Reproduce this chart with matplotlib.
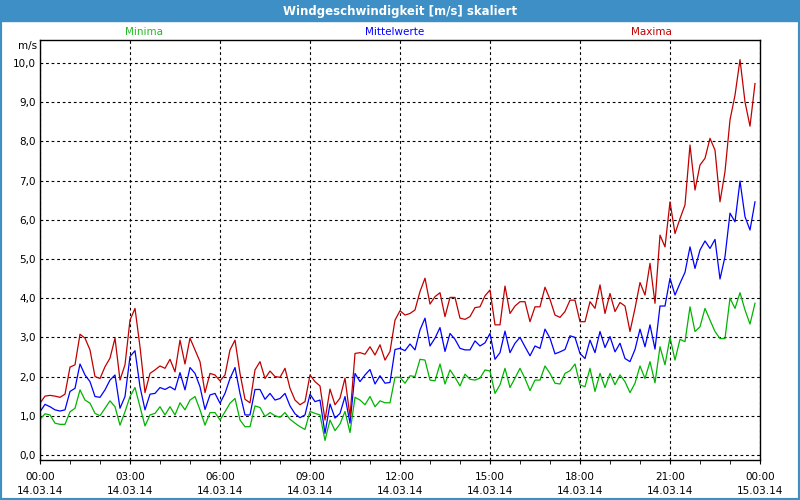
import numpy as np
import matplotlib.pyplot as plt
from matplotlib.patches import Rectangle

# 10-Minuten-Werte 14.03.14 00:00 .. 23:50 (m/s)
maxima = [1.32, 1.50, 1.52, 1.50, 1.47, 1.55, 2.24, 2.30, 3.08, 2.98, 2.68, 2.00, 1.95, 2.25, 2.47, 2.98, 1.91, 2.30, 3.44, 3.74, 2.76, 1.59, 2.08, 2.17, 2.27,
          2.21, 2.44, 2.12, 2.93, 2.32, 2.98, 2.68, 2.38, 1.59, 2.08, 2.04, 1.89, 2.04, 2.68, 2.93, 2.08, 1.42, 1.33, 2.17, 2.38, 1.95, 2.14, 2.00, 1.98,
          2.21, 1.70, 1.40, 1.28, 1.36, 2.04, 1.87, 1.76, 0.89, 1.68, 1.28, 1.45, 1.96, 0.98, 2.59, 2.61, 2.57, 2.76, 2.55, 2.81, 2.42, 2.64, 3.44, 3.68,
          3.57, 3.61, 3.70, 4.17, 4.51, 3.85, 4.04, 4.14, 3.53, 4.02, 4.02, 3.49, 3.46, 3.53, 3.76, 3.78, 4.06, 4.21, 3.32, 3.32, 4.31, 3.61, 3.80, 3.91,
          3.91, 3.40, 3.78, 3.78, 4.28, 3.97, 3.57, 3.51, 3.66, 3.95, 3.95, 3.40, 3.40, 3.91, 3.74, 4.34, 3.61, 4.12, 3.66, 3.89, 3.80, 3.15, 3.74, 4.40,
          4.08, 4.89, 3.87, 5.61, 5.31, 6.46, 5.65, 6.03, 6.38, 7.91, 6.76, 7.40, 7.57, 8.08, 7.78, 6.46, 7.23, 8.55, 9.18, 10.09, 9.01, 8.39, 9.48]
mittelwerte = [1.10, 1.29, 1.23, 1.15, 1.12, 1.15, 1.62, 1.70, 2.32, 2.04, 1.87, 1.49, 1.47, 1.66, 1.91, 2.04, 1.19, 1.49, 2.51, 2.66, 1.74, 1.15, 1.55, 1.57, 1.72,
               1.67, 1.74, 1.66, 2.10, 1.66, 2.23, 2.08, 1.74, 1.16, 1.53, 1.57, 1.32, 1.57, 1.95, 2.23, 1.57, 1.02, 1.02, 1.67, 1.67, 1.42, 1.57, 1.40, 1.44,
               1.57, 1.25, 1.05, 0.95, 1.02, 1.55, 1.36, 1.40, 0.55, 1.30, 0.94, 1.06, 1.49, 0.81, 2.08, 1.87, 2.04, 2.18, 1.81, 2.02, 1.83, 1.85, 2.69, 2.72,
               2.66, 2.83, 2.68, 3.19, 3.49, 2.78, 2.98, 3.25, 2.64, 3.10, 2.95, 2.72, 2.68, 2.68, 2.91, 2.78, 2.86, 3.10, 2.44, 2.61, 3.16, 2.61, 2.85, 3.00,
               2.76, 2.53, 2.78, 2.72, 3.21, 2.98, 2.58, 2.63, 2.69, 3.04, 3.00, 2.59, 2.46, 2.93, 2.61, 3.15, 2.74, 3.02, 2.63, 2.85, 2.46, 2.38, 2.69, 3.21,
               2.76, 3.32, 2.70, 3.80, 3.80, 4.51, 4.08, 4.38, 4.66, 5.31, 4.76, 5.23, 5.46, 5.27, 5.50, 4.49, 5.06, 6.17, 5.95, 6.99, 6.08, 5.74, 6.46]
minima = [0.91, 1.05, 1.02, 0.81, 0.78, 0.78, 1.10, 1.19, 1.66, 1.40, 1.32, 1.06, 1.00, 1.19, 1.38, 1.23, 0.76, 1.10, 1.49, 1.72, 1.23, 0.74, 1.02, 1.06, 1.23,
          1.02, 1.23, 1.02, 1.33, 1.15, 1.40, 1.49, 1.15, 0.76, 1.08, 1.08, 0.89, 1.10, 1.32, 1.44, 0.89, 0.72, 0.72, 1.25, 1.21, 0.98, 1.08, 1.00, 0.96,
          1.08, 0.91, 0.81, 0.72, 0.65, 1.11, 1.06, 1.02, 0.37, 0.89, 0.62, 0.79, 1.11, 0.57, 1.47, 1.40, 1.28, 1.49, 1.23, 1.38, 1.33, 1.33, 1.98, 1.98,
          1.83, 2.02, 2.00, 2.44, 2.42, 1.91, 1.89, 2.32, 1.81, 2.17, 1.98, 1.76, 2.06, 1.93, 1.91, 1.96, 2.17, 2.14, 1.57, 1.79, 2.21, 1.72, 1.96, 2.21,
          1.95, 1.64, 1.91, 1.91, 2.27, 2.08, 1.83, 1.81, 2.08, 2.15, 2.32, 1.79, 1.74, 2.21, 1.62, 2.08, 1.72, 2.08, 1.79, 2.04, 1.87, 1.59, 1.83, 2.27,
          1.95, 2.38, 1.84, 2.76, 2.30, 3.00, 2.42, 2.95, 2.89, 3.78, 3.15, 3.27, 3.74, 3.44, 3.15, 2.97, 2.97, 4.00, 3.74, 4.14, 3.70, 3.34, 3.87]

tick_hours = [0, 3, 6, 9, 12, 15, 18, 21, 24]
tick_labels = ["00:00\n14.03.14", "03:00\n14.03.14", "06:00\n14.03.14", "09:00\n14.03.14",
               "12:00\n14.03.14", "15:00\n14.03.14", "18:00\n14.03.14", "21:00\n14.03.14",
               "00:00\n15.03.14"]
y_ticks = [0, 1, 2, 3, 4, 5, 6, 7, 8, 9, 10]

blau = '#3d8fc6'

fig = plt.figure(figsize=(8, 5), dpi=100)
ax = fig.add_axes([0.05, 0.08, 0.90, 0.84])

x = np.arange(len(maxima)) / 6.0  # Stunden
ax.plot(x, minima, color='#00b400', lw=0.9)
ax.plot(x, mittelwerte, color='#0000ff', lw=0.9)
ax.plot(x, maxima, color='#c00000', lw=0.9)

ax.set_xlim(0, 24)
ax.set_ylim(-0.13, 10.59)
ax.set_yticks(y_ticks)
ax.set_yticklabels([f"{v:.1f}".replace('.', ',') for v in y_ticks])
ax.set_xticks(tick_hours)
ax.set_xticklabels(tick_labels)
ax.set_xticks(range(25), minor=True)
for lab in ax.get_xticklabels():
    lab.set_linespacing(1.5)

ax.tick_params(axis='y', length=0, pad=3, labelsize=7.5)
ax.tick_params(axis='x', which='both', length=3, direction='out', pad=6, labelsize=7.5)
ax.grid(True, color='black', linestyle=(0, (2.5, 2.5)), lw=0.8)
for s in ax.spines.values():
    s.set_linewidth(1.0)

# Titelleiste und Rahmen
fig.patches.append(Rectangle((0, 1 - 21 / 500), 1, 21 / 500, transform=fig.transFigure,
                             color=blau, zorder=0))
fig.patches.append(Rectangle((0, 0), 1, 1, transform=fig.transFigure, fill=False,
                             edgecolor=blau, lw=3, zorder=1))
fig.text(0.5, 1 - 11 / 500, "Windgeschwindigkeit [m/s] skaliert", color='white',
         weight='bold', ha='center', va='center', fontsize=8.5)

fig.text(144 / 800, 1 - 32 / 500, "Minima", color='#22bb22', ha='center', va='center', fontsize=7.5)
fig.text(395 / 800, 1 - 32 / 500, "Mittelwerte", color='#0000ff', ha='center', va='center', fontsize=7.5)
fig.text(651 / 800, 1 - 32 / 500, "Maxima", color='#c00000', ha='center', va='center', fontsize=7.5)
fig.text(37 / 800, 1 - 46 / 500, "m/s", color='black', ha='right', va='center', fontsize=7.5)

fig.savefig("out.png", dpi=100)
